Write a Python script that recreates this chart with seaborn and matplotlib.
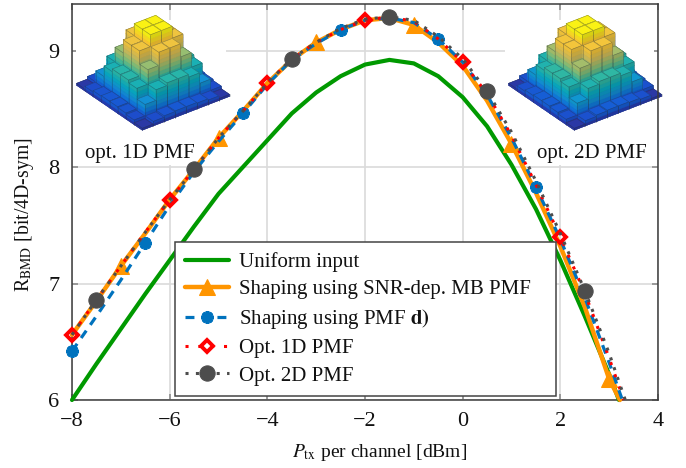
import numpy as np
import pandas as pd
import matplotlib
matplotlib.use("Agg")
import matplotlib.pyplot as plt
from matplotlib.colors import LinearSegmentedColormap
from matplotlib.patches import Rectangle
import seaborn as sns

x_grid = [-8, -7.5, -7, -6.5, -6, -5.5, -5, -4.5, -4, -3.5, -3, -2.5, -2, -1.5, -1, -0.5, 0, 0.5, 1, 1.5, 2, 2.5, 3]

uniform_x = x_grid + [3.2]
uniform_y = [6.0, 6.31, 6.61, 6.91, 7.2, 7.49, 7.77, 8.0, 8.23, 8.46, 8.64, 8.78, 8.88, 8.92, 8.89, 8.78, 8.6, 8.35, 8.02, 7.64, 7.2, 6.72, 6.22, 6.0]

mb_x = x_grid + [3.22]
mb_y = [6.56, 6.85, 7.15, 7.43, 7.72, 7.98, 8.25, 8.48, 8.72, 8.92, 9.07, 9.18, 9.26, 9.28, 9.22, 9.07, 8.87, 8.57, 8.2, 7.78, 7.32, 6.8, 6.18, 6.0]

pmfd_x = x_grid + [3.27]
pmfd_y = [6.42, 6.72, 7.03, 7.35, 7.67, 7.96, 8.22, 8.46, 8.71, 8.92, 9.06, 9.18, 9.26, 9.28, 9.24, 9.10, 8.90, 8.62, 8.25, 7.83, 7.38, 6.88, 6.32, 6.0]

opt1d_x = x_grid + [3.3]
opt1d_y = [6.56, 6.86, 7.15, 7.44, 7.72, 7.98, 8.25, 8.48, 8.72, 8.93, 9.07, 9.18, 9.26, 9.29, 9.25, 9.10, 8.90, 8.63, 8.27, 7.85, 7.4, 6.92, 6.36, 6.0]

opt2d_x = x_grid + [3.33]
opt2d_y = [6.56, 6.86, 7.15, 7.44, 7.72, 7.98, 8.25, 8.48, 8.72, 8.93, 9.07, 9.19, 9.27, 9.29, 9.26, 9.12, 8.93, 8.65, 8.3, 7.88, 7.43, 6.94, 6.40, 6.0]

labels = ["Uniform input", "Shaping using SNR-dep. MB PMF", r"Shaping using PMF $\mathbf{d)}$", "Opt. 1D PMF", "Opt. 2D PMF"]
x_ticks = [-8, -6, -4, -2, 0, 2, 4]
y_ticks = [6, 7, 8, 9]

pmf_1d = [[.03, .07, .09, .10], [.07, .24, .40, .44], [.09, .40, .62, .82], [.10, .44, .82, 1.0]]
pmf_2d = [[.03, .08, .10, .11], [.08, .26, .42, .46], [.10, .42, .64, .84], [.11, .46, .84, 1.0]]
parula = ["#352a87", "#1f48c8", "#0f6fe0", "#1390d4", "#07a9c2", "#2eb7a4", "#87bf77", "#d1bb59", "#fec832", "#f9fb0e"]

sns.set_theme(style="whitegrid")
plt.rcParams["font.family"] = ["Liberation Serif", "DejaVu Serif"]
plt.rcParams["mathtext.fontset"] = "stix"

fig = plt.figure(figsize=(6.86, 4.68), dpi=100, facecolor="white")
ax = fig.add_axes([72 / 686, 1 - 400 / 468, 586 / 686, 396 / 468])

specs = [
    (uniform_x, uniform_y, "#009900", 3.0, "-", None, None, {}),
    (mb_x, mb_y, "#ff9500", 3.2, "-", "^", [2, 6, 10, 14, 18, 22], dict(ms=11.5, mfc="#ff9500", mec="#ff9500")),
    (pmfd_x, pmfd_y, "#0072bd", 2.3, (0, (2.8, 2.2)), (8, 2, 0), [0, 3, 7, 11, 15, 19], dict(ms=9, mfc="#0072bd", mec="#0072bd", mew=2.6)),
    (opt1d_x, opt1d_y, "#ff0000", 2.2, (0, (1, 3.2)), "D", [0, 4, 8, 12, 16, 20], dict(ms=5.8, mfc="none", mec="#ff0000", mew=2.8)),
    (opt2d_x, opt2d_y, "#4d4d4d", 2.2, (0, (1, 2.4)), "o", [1, 5, 9, 13, 17, 21], dict(ms=11, mfc="#4d4d4d", mec="#4d4d4d")),
]
for (xs, ys, col, lw, ls, mk, every, extra), lab in zip(specs, labels):
    kw = dict(extra)
    if mk is not None:
        kw.update(marker=mk, markevery=every)
    sns.lineplot(x=xs, y=ys, ax=ax, color=col, linewidth=lw, linestyle=ls, label=lab,
                 zorder=3, sort=False, errorbar=None, estimator=None, clip_on=False, **kw)

ax.set_xlim(-8, 4)
ax.set_ylim(6, 9.4)
ax.set_xticks(x_ticks)
ax.set_yticks(y_ticks)
ax.set_axisbelow(True)
ax.grid(True, color="#dadada", lw=1.2)
ax.tick_params(direction="in", length=4, width=1.2, color="#8c8c8c", labelsize=16, top=True, right=True,
               bottom=True, left=True, labelcolor="#111111")
ax.tick_params(axis="x", pad=9)
ax.tick_params(axis="y", pad=9)
for s in ax.spines.values():
    s.set_color("#3a3a3a")
    s.set_linewidth(1.1)
ax.set_xlabel(r"$P_{\mathrm{tx}}$ per channel [dBm]", fontsize=14, color="#111111")
ax.set_ylabel(r"R$_{\mathrm{BMD}}$ [bit/4D-sym]", fontsize=14.2, color="#111111")
ax.xaxis.set_label_coords((380 - 72) / 586, -(442 - 400) / 396)
ax.yaxis.set_label_coords(-(72 - 36) / 586, (400 - 215) / 396)

handles, labs = ax.get_legend_handles_labels()
leg = ax.legend(handles, labs, loc="lower left", bbox_to_anchor=(103 / 586, 4 / 396, 381 / 586, 156 / 396),
                mode="expand", borderaxespad=0,
                fontsize=15, handlelength=2.11, handletextpad=0.48, labelspacing=0.37, borderpad=0.5,
                frameon=True, fancybox=False, framealpha=1, edgecolor="#444444", facecolor="white")
leg.get_frame().set_linewidth(1.1)
leg.set_zorder(6)
for t in leg.get_texts():
    t.set_color("#111111")

cmap = LinearSegmentedColormap.from_list("parula_like", parula)

for left, right in [(76, 226), (505, 654)]:
    ax.add_patch(Rectangle(((left - 72) / 586, (400 - 165) / 396), (right - left) / 586, 145 / 396,
                           transform=ax.transAxes, facecolor="white", edgecolor="none", zorder=1.2))

face_shade = np.array([0.7, 1.0, 0.97, 0.9, 0.9, 0.86])


def pyramid(cx, cy, quad):
    side = 300
    bounds = [(cx - side / 2 - 72) / 586, (400 - cy - side / 2) / 396, side / 586, side / 396]
    q = np.array(quad)
    full = np.block([[q, q[:, ::-1]], [q[::-1, :], q[::-1, ::-1]]])
    a3 = ax.inset_axes(bounds, projection="3d", computed_zorder=False, zorder=1.5)
    a3.set_proj_type("ortho")
    a3.view_init(elev=31, azim=-37)
    a3.set_xlim(0, 8)
    a3.set_ylim(0, 8)
    a3.set_zlim(0, 1)
    a3.set_box_aspect((1, 1, 0.7), zoom=0.56)
    a3.set_axis_off()
    a3.patch.set_visible(False)
    w = 0.97
    m = (1 - w) / 2
    order = sorted(((i, j) for i in range(8) for j in range(8)), key=lambda p: p[0] - p[1])
    nslab = 16
    for rank, (i, j) in enumerate(order):
        h = max(full[i, j], 0.02)
        edges = np.linspace(0, h, max(int(np.ceil(h * nslab)), 1) + 1)
        zs, dz = edges[:-1], np.diff(edges)
        n = len(zs)
        base = np.array([cmap(float((z + d / 2) ** 0.7)) for z, d in zip(zs, dz)])
        cols = np.repeat(base, 6, axis=0)
        cols[:, :3] = cols[:, :3] * np.tile(face_shade, n)[:, None]
        a3.bar3d(np.full(n, i + m), np.full(n, j + m), zs, w, w, dz, color=cols, shade=False,
                 edgecolor=cols, linewidth=0.25, zorder=10 + rank)
        x0, x1, y0, y1 = i + m, i + m + w, j + m, j + m + w
        ec = (0.15, 0.2, 0.25, 0.4)
        a3.plot([x0, x1, x1, x0, x0], [y0, y0, y1, y1, y0], [h] * 5, color=ec, lw=0.45, zorder=10.5 + rank)
        for px, py in [(x0, y0), (x1, y0), (x1, y1)]:
            a3.plot([px, px], [py, py], [0, h], color=ec, lw=0.45, zorder=10.5 + rank)
    return a3


pyramid(149, 62, pmf_1d)
pyramid(581, 62, pmf_2d)

ax.text(-6.6, 8.12, "opt. 1D PMF", fontsize=15, ha="center", va="center", color="#111111", zorder=4)
ax.text(2.65, 8.12, "opt. 2D PMF", fontsize=15, ha="center", va="center", color="#111111", zorder=4)

fig.savefig("out.png", dpi=100, facecolor="white")
